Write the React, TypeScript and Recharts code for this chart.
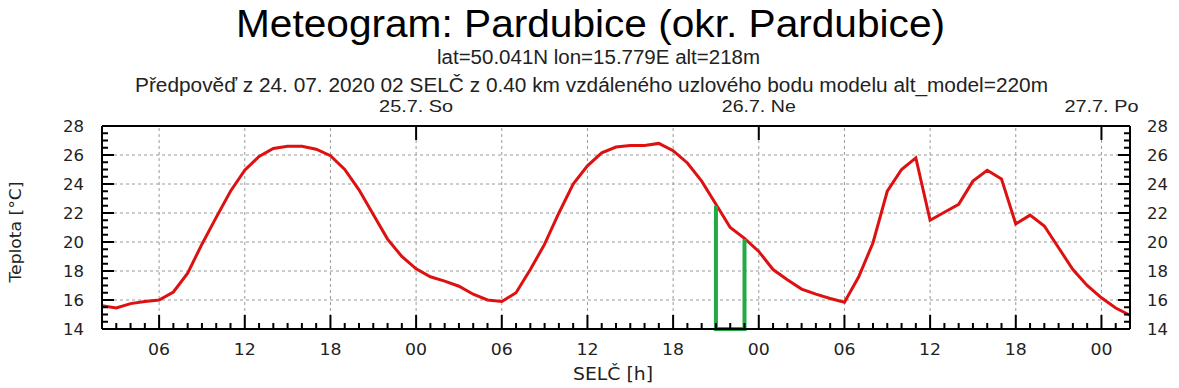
import React from "react";
import { LineChart, Line, XAxis, YAxis, ReferenceLine } from "recharts";

// hodiny od 24.7. 02:00 SELČ
const hours = [
  0, 1, 2, 3, 4, 5, 6, 7, 8, 9, 10, 11, 12, 13, 14, 15, 16, 17, 18, 19, 20, 21, 22, 23, 24,
  25, 26, 27, 28, 29, 30, 31, 32, 33, 34, 35, 36, 37, 38, 39, 40, 41, 42, 43, 44, 45, 46, 47, 48,
  49, 50, 51, 52, 53, 54, 55, 56, 57, 58, 59, 60, 61, 62, 63, 64, 65, 66, 67, 68, 69, 70, 71, 72,
];

const temps = [
  15.6, 15.45, 15.75, 15.9, 16.0, 16.55, 17.85, 19.85, 21.7, 23.5, 24.95, 25.9, 26.45, 26.6, 26.6,
  26.4, 25.95, 25.0, 23.6, 21.9, 20.2, 19.0, 18.15, 17.6, 17.3, 16.95, 16.4, 16.0, 15.9, 16.5, 18.1,
  19.85, 22.0, 24.0, 25.25, 26.15, 26.55, 26.65, 26.65, 26.8, 26.3, 25.45, 24.2, 22.6, 21.0, 20.25,
  19.35, 18.1, 17.4, 16.75, 16.4, 16.1, 15.85, 17.6, 19.95, 23.5, 25.0, 25.8, 21.5, 22.05, 22.6, 24.2,
  24.95, 24.35, 21.25, 21.85, 21.1, 19.6, 18.1, 17.0, 16.15, 15.45, 14.95,
];

// zelená značka
const markHours = [43, 43, 45, 45];
const markTemps = [22.5, 14, 14, 20.2];

const majorHours = [4, 10, 16, 22, 28, 34, 40, 46, 52, 58, 64, 70];
const majorLabels = ["06", "12", "18", "00", "06", "12", "18", "00", "06", "12", "18", "00"];

const dayHours = [22, 46, 70];
const dayLabels = ["25.7. So", "26.7. Ne", "27.7. Po"];

const tempTicks = [
  14, 14.5, 15, 15.5, 16, 16.5, 17, 17.5, 18, 18.5, 19, 19.5, 20, 20.5, 21, 21.5, 22, 22.5, 23,
  23.5, 24, 24.5, 25, 25.5, 26, 26.5, 27, 27.5, 28,
];
const gridTemps = [16, 18, 20, 22, 24, 26];

const tempRows = hours.map((h, i) => ({ h, t: temps[i] }));
const markRows = markHours.map((h, i) => ({ h, t: markTemps[i] }));

// rozměry grafu
const W = 1179;
const H = 388;
const plotLeft = 102;
const plotRight = 1130;
const plotTop = 126;
const plotBottom = 329;
const xMin = 0;
const xMax = 72;
const yMin = 14;
const yMax = 28;
const sx = (h: number) => plotLeft + ((h - xMin) / (xMax - xMin)) * (plotRight - plotLeft);
const sy = (t: number) => plotBottom - ((t - yMin) / (yMax - yMin)) * (plotBottom - plotTop);

const tickFont = "'DejaVu Sans', Verdana, sans-serif";
const headFont = "'Liberation Sans', Arial, sans-serif";
const ink = "#222";

function BottomTick({ x, y, payload }: any) {
  const idx = majorHours.indexOf(payload.value);
  if (idx < 0) return null;
  return (
    <text x={x} y={y + 26} textAnchor="middle" fontSize={16} fontFamily={tickFont} fill={ink}
      textLength={22} lengthAdjust="spacingAndGlyphs">
      {majorLabels[idx]}
    </text>
  );
}

function TopTick({ x, y, payload }: any) {
  const idx = dayHours.indexOf(payload.value);
  if (idx < 0) return null;
  return (
    <text x={x} y={y - 14} textAnchor="middle" fontSize={17} fontFamily={headFont} fill={ink}
      textLength={74} lengthAdjust="spacingAndGlyphs">
      {dayLabels[idx]}
    </text>
  );
}

function LeftTick({ x, y, payload }: any) {
  const v = payload.value;
  if (v % 2 !== 0) return null;
  return (
    <text x={x - 18} y={y} dy="0.36em" textAnchor="end" fontSize={16} fontFamily={tickFont} fill={ink}
      textLength={21} lengthAdjust="spacingAndGlyphs">
      {v}
    </text>
  );
}

function RightTick({ x, y, payload }: any) {
  const v = payload.value;
  if (v % 2 !== 0) return null;
  return (
    <text x={x + 17} y={y} dy="0.36em" textAnchor="start" fontSize={16} fontFamily={tickFont} fill={ink}
      textLength={21} lengthAdjust="spacingAndGlyphs">
      {v}
    </text>
  );
}

const axisLine = { stroke: "#000", strokeWidth: 2 };

export default function App() {
  return (
    <div style={{ position: "absolute", left: 0, top: 0, width: W, height: H, background: "#fff" }}>
      <LineChart width={W} height={H} margin={{ top: 0, right: 0, bottom: 0, left: 0 }}>
        <XAxis xAxisId="bottom" dataKey="h" type="number" domain={[xMin, xMax]} ticks={majorHours} interval={0}
          height={H - plotBottom} tickSize={0} tickMargin={0} tickLine={false} axisLine={axisLine}
          tick={<BottomTick />} />
        <XAxis xAxisId="top" dataKey="h" orientation="top" type="number" domain={[xMin, xMax]} ticks={dayHours}
          interval={0} height={plotTop} tickSize={0} tickMargin={0} tickLine={false}
          axisLine={axisLine} tick={<TopTick />} />
        <YAxis yAxisId="left" type="number" domain={[yMin, yMax]} ticks={tempTicks} interval={0}
          width={plotLeft} tickSize={0} tickMargin={0} tickLine={false} axisLine={axisLine}
          tick={<LeftTick />} />
        <YAxis yAxisId="right" orientation="right" type="number" domain={[yMin, yMax]} ticks={tempTicks}
          interval={0} width={W - plotRight} tickSize={0} tickMargin={0} tickLine={false}
          axisLine={axisLine} tick={<RightTick />} />

        {majorHours.map((h) => (
          <ReferenceLine key={"gx" + h} xAxisId="bottom" yAxisId="left" x={h}
            stroke="#9a9a9a" strokeDasharray="3 3" strokeWidth={1} />
        ))}
        {gridTemps.map((t) => (
          <ReferenceLine key={"gy" + t} xAxisId="bottom" yAxisId="left" y={t}
            stroke="#9a9a9a" strokeDasharray="3 3" strokeWidth={1} />
        ))}

        <Line xAxisId="bottom" yAxisId="left" data={tempRows} dataKey="t" type="linear"
          stroke="#dd1111" strokeWidth={3} dot={false} isAnimationActive={false} />
        <Line xAxisId="top" yAxisId="right" data={markRows} dataKey="t" type="linear"
          stroke="#22aa44" strokeWidth={4} dot={false} isAnimationActive={false} />
      </LineChart>

      <svg width={W} height={H} style={{ position: "absolute", left: 0, top: 0, pointerEvents: "none" }}>
        {/* značky os dovnitř grafu */}
        <g stroke="#000" strokeWidth={2}>
          {hours.map((h) => (
            <line key={"b" + h} x1={sx(h)} x2={sx(h)} y1={plotBottom}
              y2={plotBottom - (majorHours.includes(h) ? 14 : 6)} />
          ))}
          {dayHours.map((h) => (
            <line key={"t" + h} x1={sx(h)} x2={sx(h)} y1={plotTop} y2={plotTop + 14} />
          ))}
          {tempTicks.map((t) => {
            const len = t % 2 === 0 ? 12 : 6;
            return (
              <React.Fragment key={"y" + t}>
                <line x1={plotLeft} x2={plotLeft + len} y1={sy(t)} y2={sy(t)} />
                <line x1={plotRight} x2={plotRight - len} y1={sy(t)} y2={sy(t)} />
              </React.Fragment>
            );
          })}
        </g>

        <text x={236} y={37} fontSize={38} fontFamily={headFont} fill="#000" textLength={709}
          lengthAdjust="spacingAndGlyphs">
          Meteogram: Pardubice (okr. Pardubice)
        </text>
        <text x={437} y={64} fontSize={20} fontFamily={headFont} fill={ink} textLength={323}
          lengthAdjust="spacingAndGlyphs">
          lat=50.041N lon=15.779E alt=218m
        </text>
        <text x={135} y={92} fontSize={20} fontFamily={headFont} fill={ink} textLength={913}
          lengthAdjust="spacingAndGlyphs">
          Předpověď z 24. 07. 2020 02 SELČ z 0.40 km vzdáleného uzlového bodu modelu alt_model=220m
        </text>
        <text x={613} y={380} textAnchor="middle" fontSize={17} fontFamily={tickFont} fill={ink} textLength={80}
          lengthAdjust="spacingAndGlyphs">
          SELČ [h]
        </text>
        <text x={0} y={0} transform="translate(21 232) rotate(-90)" textAnchor="middle" fontSize={16}
          fontFamily={tickFont} fill={ink} textLength={101} lengthAdjust="spacingAndGlyphs">
          Teplota [°C]
        </text>
      </svg>
    </div>
  );
}
